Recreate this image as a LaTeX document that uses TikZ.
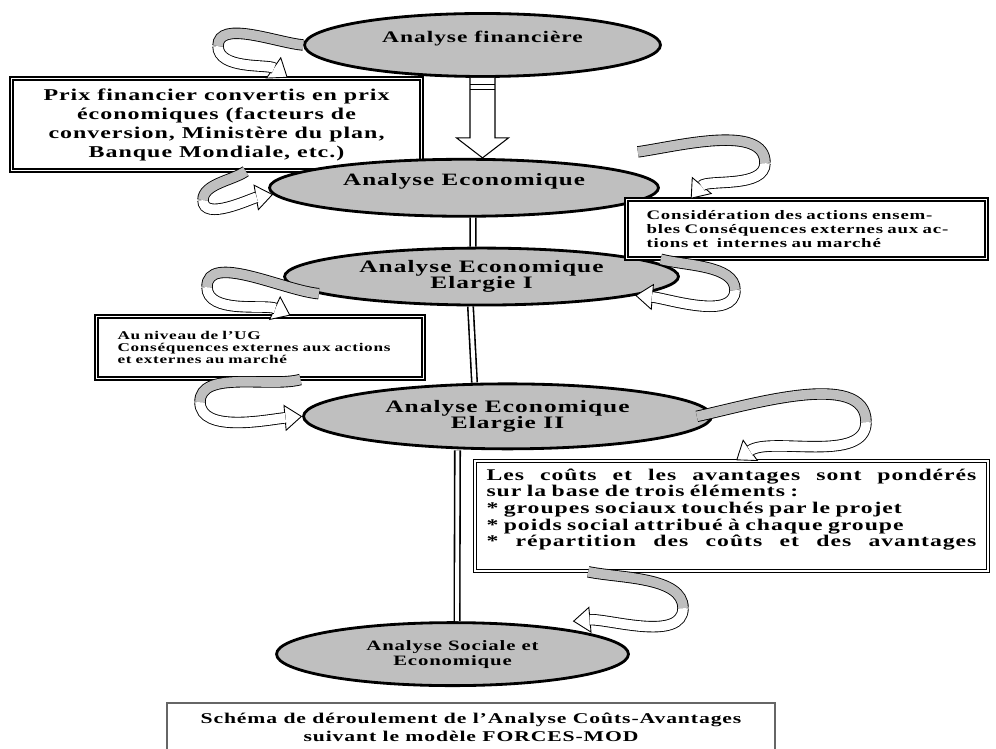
\documentclass[tikz,border=0pt]{standalone}
\usepackage{fontspec}
\newfontfamily\wserif{Liberation Serif}[FakeStretch=1.45, LetterSpace=6]
\usetikzlibrary{arrows.meta}
\usetikzlibrary{positioning,calc,shapes.geometric}

\begin{document}
\begin{tikzpicture}[x=0.02cm, y=0.02cm,
  fs/.style 2 args={font=\wserif\bfseries\fontsize{#1}{#2}\selectfont},
  ell/.style={ellipse, draw, line width=1.6pt, fill=black!25, inner sep=0pt, align=center},
  bx/.style={draw, fill=white, line width=0.9pt, double, double distance=0.8pt, inner sep=0pt},
  dbl/.style={draw, line width=0.9pt, double, double distance=2.2pt},
  rib/.style={line width=0.5pt, double=#1, double distance=5.5pt, looseness=0.8},
  hd/.style={line width=0.5pt, looseness=0.8, -{Triangle[fill=white, length=10pt, width=15pt]}}]
  \useasboundingbox (0,0) rectangle (996,-749);
  \node[ell, fs={9.2}{9.4}, minimum width=7.12cm, minimum height=1.26cm] (fin) at (482.5,-45) {Analyse financière\\ \mbox{}};
  \node[bx, fs={9.4}{10.8}, align=center, minimum width=8.2cm, minimum height=1.84cm] (prix) at (216.5,-124.5) {Prix financier convertis en prix\\économiques (facteurs de\\conversion, Ministère du plan,\\Banque Mondiale, etc.)};
  \node[ell, fs={9.85}{9.6}, minimum width=7.78cm, minimum height=1.14cm] (eco) [below=1.6cm of fin, xshift=-0.37cm] {Analyse Economique\\ \mbox{}};
  \node[ell, fs={9.95}{9.2}, minimum width=7.88cm, minimum height=1.14cm] (el1) [below=0.58cm of eco, xshift=0.35cm] {Analyse Economique\\Elargie I};
  \node[bx, fs={7.4}{7.8}, align=left, text width=6.4cm, minimum width=7.2cm, minimum height=1.18cm] (cons) at (806.5,-229) {Considération des actions ensem-\\bles Conséquences externes aux ac-\\tions et\ \ internes au marché};
  \node[bx, fs={6.75}{6.8}, align=left, text width=5.7cm, minimum width=6.55cm, minimum height=1.25cm] (ug) at (260,-347.5) {Au niveau de l’UG\\Conséquences externes aux actions\\et externes au marché};
  \node[ell, fs={9.95}{9.2}, minimum width=8.16cm, minimum height=1.3cm] (el2) [below=1.52cm of el1, xshift=0.52cm] {Analyse Economique\\Elargie II};
  \node[bx, fs={9.3}{9.4}, align=left, text width=9.8cm, minimum width=10.26cm, minimum height=2.2cm] (pond) at (731.5,-516) {\leavevmode\hbox to 9.8cm{Les\hfill coûts\hfill et\hfill les\hfill avantages\hfill sont\hfill pondérés}\\sur la base de trois éléments :\\{}* groupes sociaux touchés par le projet\\{}* poids social attribué à chaque groupe\\\leavevmode\hbox to 9.8cm{*\hfill répartition\hfill des\hfill coûts\hfill et\hfill des\hfill avantages}\\ \mbox{}};
  \node[ell, fs={8.15}{8.5}, minimum width=7.04cm, minimum height=1.26cm] (soc) [below=3.42cm of el2, xshift=-1.1cm] {Analyse Sociale et\\Economique};
  \node[draw=black!60, line width=1pt, fs={8.5}{10.2}, align=center, minimum width=12.16cm, minimum height=0.98cm] (cap) at (471,-727.5) {Schéma de déroulement de l’Analyse Coûts-Avantages\\suivant le modèle FORCES-MOD};

  \coordinate (bt) at (fin.south |- eco.north);
  \draw[line width=0.6pt, fill=white] ($(fin.south)+(-12.5,0)$) -- ($(bt)+(-12.5,20)$) -- ($(bt)+(-26,20)$) -- (bt) -- ($(bt)+(26,20)$) -- ($(bt)+(12.5,20)$) -- ($(fin.south)+(12.5,0)$);
  \draw[line width=0.6pt] ($(fin.south)+(-12.5,-7)$) -- ++(25,0);
  \draw[line width=0.6pt] ($(fin.south)+(-12.5,-12)$) -- ++(25,0);
  \draw[dbl] ($(eco.south)+(9,0)$) -- ($(el1.north)+(-8.5,0)$);
  \draw[dbl] ($(el1.south)+(-11,0)$) -- ($(el2.north)+(-33,0)$);
  \draw[dbl] ($(el2.south)+(-50,0)$) -- ($(soc.north)+(4.5,0)$);

  \coordinate (t1) at (218,-46);
  \draw[hd] (t1) to[out=-90, in=145] ([xshift=5.54cm]prix.north west);
  \draw[rib=white, shorten >=9.5pt] (t1) to[out=-90, in=145] ([xshift=5.54cm]prix.north west);
  \draw[rib=black!25] (fin.west) to[out=175, in=90] (t1);

  \coordinate (t2) at (203,-200);
  \draw[hd] (t2) to[out=-90, in=190] (eco.182);
  \draw[rib=white, shorten >=9.5pt] (t2) to[out=-90, in=190] (eco.182);
  \draw[rib=black!25] ([xshift=4.7cm]prix.south west) to[out=215, in=90] (t2);

  \coordinate (s3) at ($(eco.east |- eco.north)+(-22,6)$);
  \coordinate (t3) at (765,-163);
  \draw[hd] (t3) to[out=-90, in=50] ([xshift=1.3cm]cons.north west);
  \draw[rib=white, shorten >=9.5pt] (t3) to[out=-90, in=50] ([xshift=1.3cm]cons.north west);
  \draw[rib=black!25] (s3) to[out=8, in=90] (t3);

  \coordinate (t4) at (735,-290);
  \draw[hd] (t4) to[out=-90, in=-5] (el1.-7);
  \draw[rib=white, shorten >=9.5pt] (t4) to[out=-90, in=-5] (el1.-7);
  \draw[rib=black!25] ([xshift=0.7cm]cons.south west) to[out=-15, in=90] (t4);

  \coordinate (t5) at (207,-287);
  \draw[hd] (t5) to[out=-90, in=155] ([xshift=3.9cm]ug.north west);
  \draw[rib=white, shorten >=9.5pt] (t5) to[out=-90, in=155] ([xshift=3.9cm]ug.north west);
  \draw[rib=black!25] (el1.186) to[out=175, in=90] (t5);

  \coordinate (t6) at (200,-402);
  \draw[hd] (t6) to[out=-90, in=185] (el2.west);
  \draw[rib=white, shorten >=9.5pt] (t6) to[out=-90, in=185] (el2.west);
  \draw[rib=black!25] ([xshift=4.1cm]ug.south west) to[out=195, in=90] (t6);

  \coordinate (s7) at ([xshift=-0.32cm]el2.east);
  \coordinate (t7) at (866,-422);
  \draw[hd] (t7) to[out=-90, in=35] ([xshift=5.24cm]pond.north west);
  \draw[rib=white, shorten >=9.5pt] (t7) to[out=-90, in=35] ([xshift=5.24cm]pond.north west);
  \draw[rib=black!25] (s7) to[out=12, in=90] (t7);

  \coordinate (e8) at ($(soc.east |- soc.north)+(-57,0)$);
  \coordinate (t8) at (683,-608);
  \draw[hd] (t8) to[out=-90, in=5] (e8);
  \draw[rib=white, shorten >=9.5pt] (t8) to[out=-90, in=5] (e8);
  \draw[rib=black!25] ([xshift=2.28cm]pond.south west) to[out=-12, in=90] (t8);
\end{tikzpicture}
\end{document}
